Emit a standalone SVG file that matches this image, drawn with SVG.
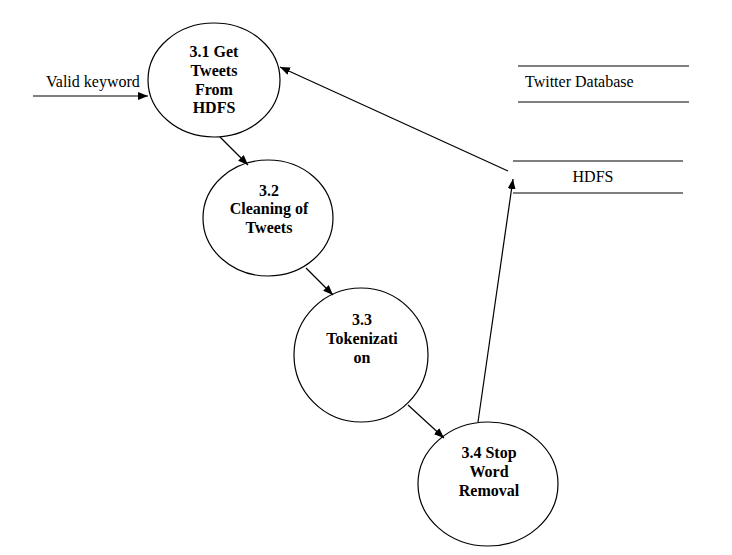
<svg xmlns="http://www.w3.org/2000/svg" width="732" height="555" viewBox="0 0 732 555">
<defs>
<marker id="ah" markerWidth="10" markerHeight="8" refX="10" refY="4" orient="auto" markerUnits="userSpaceOnUse">
<path d="M0,0 L10,4 L0,8 Z" fill="#000"/>
</marker>
<style>
text{font-family:'Liberation Serif','Times New Roman',serif;fill:#000}
.proc ellipse{fill:#fff;stroke:#000;stroke-width:1.2}
.proc text{font-size:16px;font-weight:bold;text-anchor:middle}
.lbl{font-size:16px}
.conn line{stroke:#000;stroke-width:1.2;marker-end:url(#ah)}
.store line{stroke:#000;stroke-width:1.2}
</style>
</defs>
<rect width="732" height="555" fill="#fff"/>
<g id="p31" class="proc">
<ellipse cx="214" cy="80" rx="66" ry="57"/>
<text x="214" y="57">3.1 Get</text>
<text x="214" y="76">Tweets</text>
<text x="214" y="95">From</text>
<text x="214" y="113">HDFS</text>
</g>
<g id="p32" class="proc">
<ellipse cx="268" cy="218" rx="65" ry="58"/>
<text x="269" y="196">3.2</text>
<text x="269" y="214">Cleaning of</text>
<text x="269" y="233">Tweets</text>
</g>
<g id="p33" class="proc">
<ellipse cx="361" cy="355" rx="67" ry="67"/>
<text x="362" y="325">3.3</text>
<text x="362" y="344">Tokenizati</text>
<text x="362" y="363">on</text>
</g>
<g id="p34" class="proc">
<ellipse cx="488" cy="484" rx="70" ry="62"/>
<text x="489" y="458">3.4 Stop</text>
<text x="489" y="477">Word</text>
<text x="489" y="496">Removal</text>
</g>
<g id="twitterdb" class="store">
<line x1="518" y1="66" x2="689" y2="66"/>
<line x1="518" y1="102" x2="689" y2="102"/>
<text class="lbl" x="525" y="87">Twitter Database</text>
</g>
<g id="hdfs" class="store">
<line x1="513" y1="161" x2="683" y2="161"/>
<line x1="513" y1="193" x2="683" y2="193"/>
<text class="lbl" x="593" y="182" text-anchor="middle">HDFS</text>
</g>
<g id="connectors" class="conn">
<line x1="33" y1="96" x2="148" y2="96"/>
<line x1="220" y1="137" x2="248" y2="165"/>
<line x1="306" y1="268" x2="333" y2="295"/>
<line x1="408" y1="405" x2="444" y2="438"/>
<line x1="478" y1="422" x2="513" y2="179"/>
<line x1="508" y1="171" x2="280" y2="67"/>
</g>
<text class="lbl" x="46" y="87">Valid keyword</text>
</svg>
